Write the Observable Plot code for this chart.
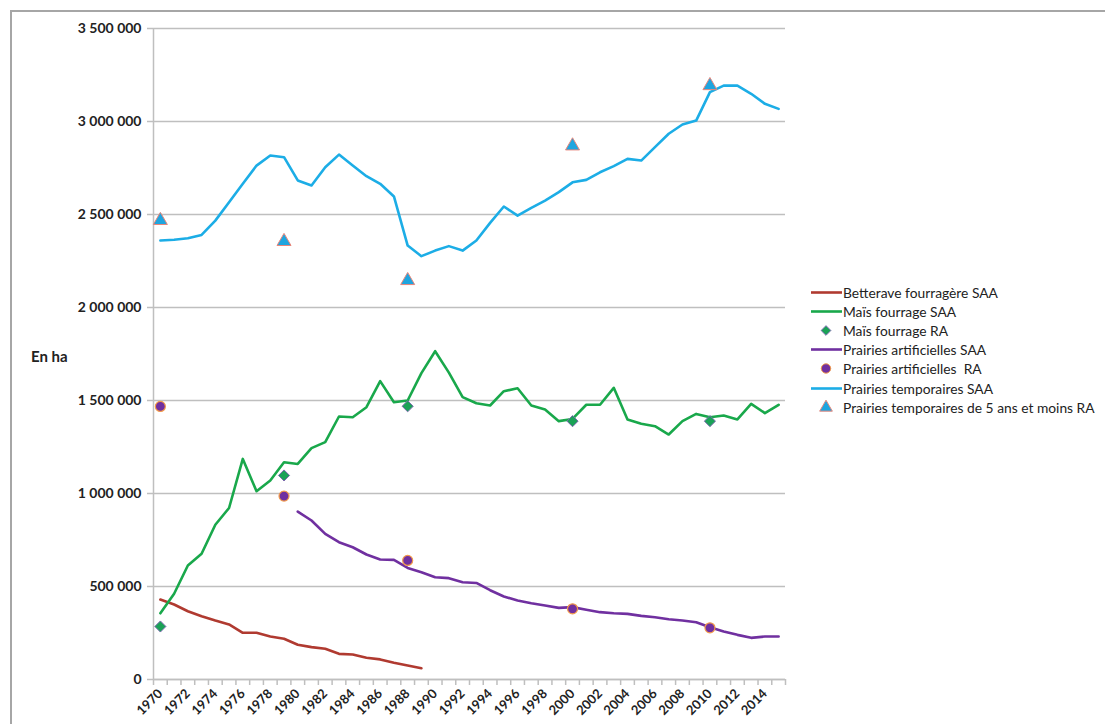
<!DOCTYPE html>
<html><head><meta charset="utf-8">
<script src="https://cdn.jsdelivr.net/npm/d3@7"></script>
<script src="https://cdn.jsdelivr.net/npm/@observablehq/plot@0.6"></script>
<style>
body{margin:0;background:#fff;font-family:Lato,"Open Sans",sans-serif;}
#wrap{position:relative;width:1105px;height:724px;overflow:hidden;background:#fff;}
#frame{position:absolute;left:10px;top:10px;width:1200px;height:800px;border:2px solid #a6a6a6;box-sizing:border-box;pointer-events:none;}
#chart{position:absolute;left:0;top:0;}
#ylab{position:absolute;left:31px;top:347px;font-weight:700;font-size:15px;color:#222;}
#legend{position:absolute;left:810px;top:283px;}
.item{display:flex;align-items:center;height:19.1px;font-size:13.8px;color:#222;white-space:pre;}
.item svg{width:33px;height:19px;flex:none;}
</style></head>
<body>
<div id="wrap">
  <div id="chart"></div>
  <div id="ylab">En ha</div>
  <div id="legend"></div>
  <div id="frame"></div>
</div>
<script>
// ---- Data ----
const years = d3.range(1970, 2016);
const betteraveYears = d3.range(1970, 1990);
const betteraveSAA = [430000,403000,367000,340000,317000,296000,251000,251000,231000,219000,187000,174000,165000,138000,134000,117000,108000,90000,75000,61000];
const maisSAA = [356000,461000,613000,676000,832000,922000,1186000,1012000,1070000,1168000,1159000,1244000,1276000,1414000,1410000,1464000,1604000,1491000,1500000,1647000,1765000,1650000,1518000,1485000,1473000,1550000,1566000,1473000,1452000,1389000,1401000,1477000,1477000,1568000,1398000,1375000,1362000,1317000,1389000,1428000,1410000,1419000,1398000,1482000,1432000,1477000];
const prairiesArtYears = d3.range(1980, 2016);
const prairiesArtSAA = [903000,855000,783000,738000,711000,672000,645000,643000,600000,577000,550000,545000,523000,519000,480000,446000,425000,410000,398000,385000,389000,375000,362000,356000,353000,342000,335000,324000,317000,308000,281000,258000,240000,224000,231000,231000];
const prairiesTempSAA = [2360000,2364000,2372000,2390000,2467000,2566000,2665000,2763000,2817000,2808000,2683000,2656000,2754000,2822000,2763000,2706000,2665000,2597000,2333000,2276000,2306000,2330000,2306000,2360000,2455000,2543000,2494000,2536000,2575000,2620000,2673000,2686000,2727000,2760000,2799000,2790000,2862000,2934000,2984000,3005000,3158000,3193000,3193000,3149000,3095000,3068000];
const raYears = [1970, 1979, 1988, 2000, 2010];
const maisRA = [285000, 1097000, 1469000, 1389000, 1389000];
const prairiesArtRA = [1468000, 986000, 640000, 380000, 278000];
const prairiesTempRA = [2468000, 2355000, 2145000, 2869000, 3193000];
const yTicks = d3.range(0, 3500001, 500000);
const xLabelYears = d3.range(1970, 2016, 2);
const xTickPositions = d3.range(1969.5, 2016, 1);

const series = [
  {name:"Betterave fourragère SAA", kind:"line", color:"#b03a30"},
  {name:"Maïs fourrage SAA", kind:"line", color:"#19a84b"},
  {name:"Maïs fourrage RA", kind:"diamond2", fill:"#1aa256", stroke:"#7b6aae"},
  {name:"Prairies artificielles SAA", kind:"line", color:"#7030a0"},
  {name:"Prairies artificielles  RA", kind:"circle", fill:"#7030a0", stroke:"#f29a4a"},
  {name:"Prairies temporaires SAA", kind:"line", color:"#1cade6"},
  {name:"Prairies temporaires de 5 ans et moins RA", kind:"triangle", fill:"#1fa5df", stroke:"#e8867a"}
];

const lineRows = [
  ...betteraveYears.map((y,i)=>({year:y, value:betteraveSAA[i], s:series[0].name})),
  ...years.map((y,i)=>({year:y, value:maisSAA[i], s:series[1].name})),
  ...prairiesArtYears.map((y,i)=>({year:y, value:prairiesArtSAA[i], s:series[3].name})),
  ...years.map((y,i)=>({year:y, value:prairiesTempSAA[i], s:series[5].name}))
];
const maisRows = raYears.map((y,i)=>({year:y, value:maisRA[i]}));
const artRows = raYears.map((y,i)=>({year:y, value:prairiesArtRA[i]}));
const tempRows = raYears.map((y,i)=>({year:y, value:prairiesTempRA[i]}));

const fmt = d => d3.format(",")(d).replace(/,/g, " ");
const gridColor = "#bfbfbf";

const chart = Plot.plot({
  width: 1105, height: 724,
  marginLeft: 153, marginRight: 320, marginTop: 28, marginBottom: 45,
  style: {fontFamily: "Lato, 'Open Sans', sans-serif", fontSize: "14px", fontWeight: 700, background: "transparent", color: "#222"},
  x: {domain: [1969.5, 2015.5]},
  y: {domain: [0, 3500000]},
  color: {domain: series.filter(d=>d.kind==="line").map(d=>d.name), range: series.filter(d=>d.kind==="line").map(d=>d.color)},
  marks: [
    Plot.gridY(yTicks, {stroke: gridColor, strokeOpacity: 1, strokeWidth: 1.5}),
    Plot.ruleX([1969.5], {stroke: gridColor, strokeWidth: 1.5, y1: 0, y2: 3500000}),
    Plot.axisY({ticks: yTicks, tickFormat: fmt, tickSize: 6, tickPadding: 6, stroke: gridColor, strokeWidth: 1.5, fill: "#222", fontSize: 14, label: null}),
    Plot.axisX({ticks: xTickPositions, tickSize: 6, tickFormat: () => "", stroke: gridColor, strokeWidth: 1.5, label: null}),
    Plot.axisX({ticks: xLabelYears, tickSize: 0, tickPadding: 12, tickRotate: -45, tickFormat: d => String(d), fill: "#222", fontSize: 13, label: null}),
    Plot.ruleY([0], {stroke: gridColor, strokeWidth: 1.5}),
    Plot.line(lineRows, {x: "year", y: "value", z: "s", stroke: "s", strokeWidth: 2.6}),
    Plot.dot(maisRows, {x: "year", y: "value", symbol: "diamond2", r: 5, fill: series[2].fill, stroke: series[2].stroke, strokeWidth: 1}),
    Plot.dot(artRows, {x: "year", y: "value", symbol: "circle", r: 5, fill: series[4].fill, stroke: series[4].stroke, strokeWidth: 1.2}),
    Plot.dot(tempRows, {x: "year", y: "value", symbol: "triangle", r: 5.2, fill: series[6].fill, stroke: series[6].stroke, strokeWidth: 1})
  ]
});
document.getElementById("chart").appendChild(chart);

// ---- Legend (HTML) ----
const legend = d3.select("#legend");
const sym = {diamond2: d3.symbolDiamond2, circle: d3.symbolCircle, triangle: d3.symbolTriangle};
const symSize = {diamond2: 60, circle: 70, triangle: 70};
for (const s of series) {
  const row = legend.append("div").attr("class", "item");
  const svg = row.append("svg").attr("viewBox", "0 0 33 19");
  if (s.kind === "line") {
    svg.append("line").attr("x1", 1).attr("x2", 32).attr("y1", 9.5).attr("y2", 9.5)
      .attr("stroke", s.color).attr("stroke-width", 2.6);
  } else {
    svg.append("path").attr("transform", "translate(16,9.5)")
      .attr("d", d3.symbol(sym[s.kind], symSize[s.kind])())
      .attr("fill", s.fill).attr("stroke", s.stroke).attr("stroke-width", 1);
  }
  row.append("span").text(s.name);
}
</script>
</body></html>
